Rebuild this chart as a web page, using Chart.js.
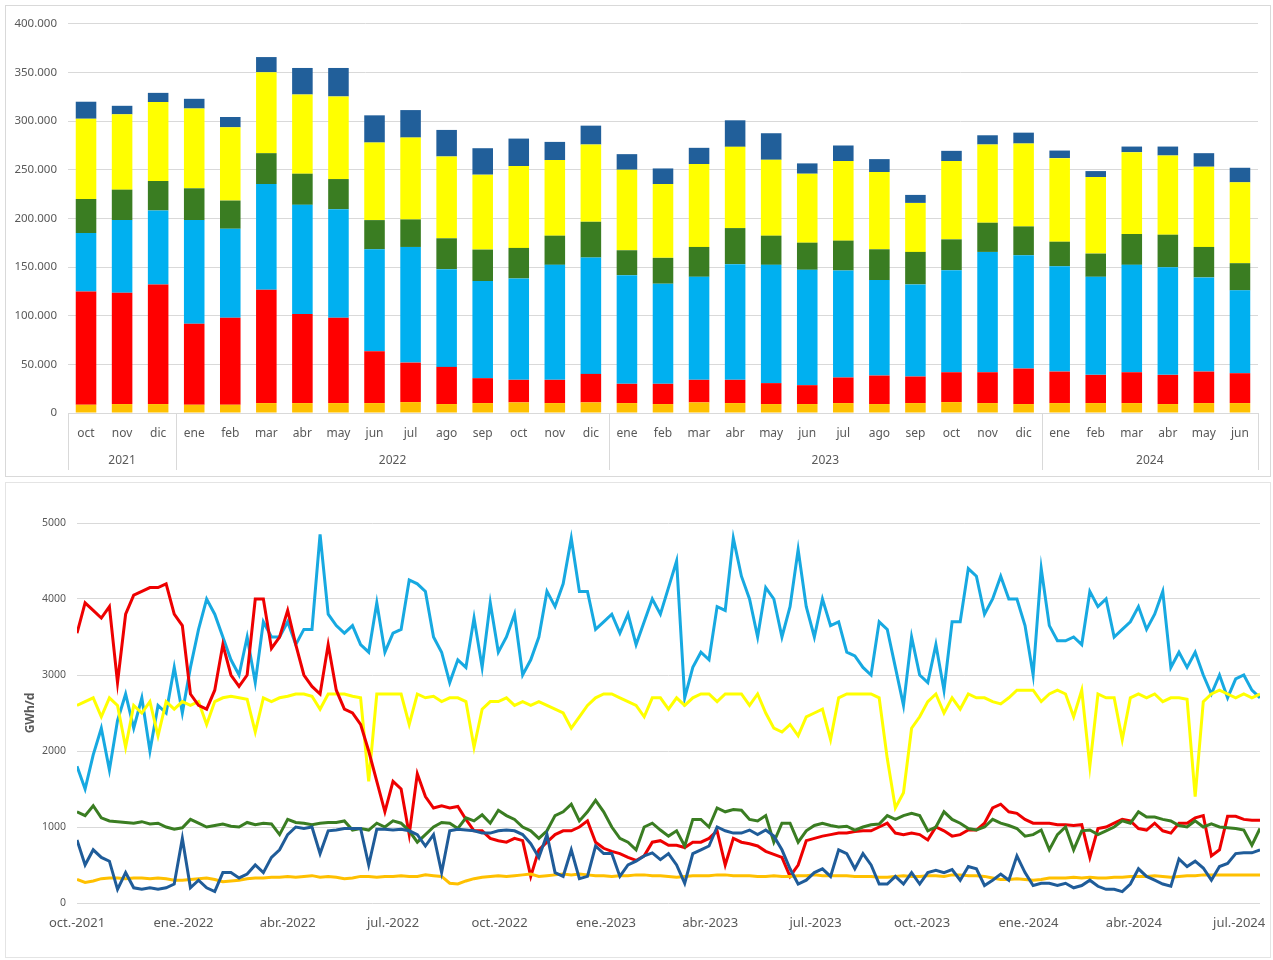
<!DOCTYPE html>
<html>
<head>
<meta charset="utf-8">
<script src="https://cdn.jsdelivr.net/npm/chart.js@4.4.1/dist/chart.umd.min.js"></script>
<style>
  body { margin: 0; background: #fff; width: 1273px; height: 960px; position: relative; overflow: hidden; }
  .box { position: absolute; left: 5px; width: 1264px; border: 1px solid #d9d9d9; background: #fff; }
  #top { top: 5px; height: 470px; }
  #bottom { top: 482px; height: 474px; border-color: #e4e4e4; }
</style>
</head>
<body>
<div class="box" id="top"><canvas id="bars"></canvas></div>
<div class="box" id="bottom"><canvas id="lines"></canvas></div>
<script>
// ---- monthly stacked bars ----
const months = ["oct", "nov", "dic", "ene", "feb", "mar", "abr", "may", "jun", "jul", "ago", "sep", "oct", "nov", "dic",
  "ene", "feb", "mar", "abr", "may", "jun", "jul", "ago", "sep", "oct", "nov", "dic", "ene", "feb", "mar", "abr", "may", "jun"];
const years = ["2021", "2022", "2023", "2024"];
const monthsPerYear = [3, 12, 12, 6];

const barOrange = [8500, 9200, 9200, 8500, 8500, 10200, 10200, 10200, 10200, 11200, 9200, 10200, 10900, 10200, 10900,
  10200, 9200, 10900, 10200, 9200, 9200, 10200, 9200, 10200, 11200, 10200, 9200, 10200, 10200, 10200, 9200, 10200, 10200];
const barRed = [116500, 114500, 123000, 83200, 89300, 116500, 91700, 87600, 53200, 40600, 38200, 25600, 23200, 23900, 29300,
  19800, 20800, 23200, 23900, 21500, 19400, 26300, 29300, 27300, 30700, 31700, 36500, 32400, 29000, 31700, 30000, 32400, 30700];
const barBlue = [60000, 74600, 76000, 106600, 91600, 108700, 112100, 111700, 104900, 118900, 100500, 99800, 104200, 118200, 119600,
  111700, 102900, 105900, 118900, 121600, 118600, 110000, 98100, 94700, 104900, 123700, 116500, 108300, 100800, 110400, 110700, 96800, 85200];
const barGreen = [35000, 31300, 30300, 32700, 29000, 31700, 32000, 31000, 30000, 28300, 31700, 32400, 31400, 30000, 36800,
  25600, 26600, 30700, 37100, 30000, 27900, 30700, 31700, 33400, 31700, 30000, 29600, 25200, 23900, 31700, 33400, 31300, 27900];
const barYellow = [82500, 77400, 81100, 82000, 75300, 83200, 81400, 84900, 79700, 84100, 84100, 77000, 84100, 77700, 79400,
  82800, 75900, 85200, 83500, 78000, 70900, 81800, 79400, 50400, 80500, 80400, 85200, 85900, 78700, 84100, 81400, 82500, 83100];
const barNavy = [17500, 8800, 9500, 10000, 10600, 15600, 27300, 29300, 28000, 28300, 27300, 27200, 28300, 18700, 19400,
  16000, 16000, 16700, 27300, 27300, 10600, 16000, 13300, 8200, 10500, 9500, 11200, 7800, 6100, 5800, 9200, 13900, 15000];
const barTicks = [0, 50000, 100000, 150000, 200000, 250000, 300000, 350000, 400000];

// ---- weekly lines (GWh/d), one value every 7 days from 1 oct 2021 ----
const lineRed = [3550, 3950, 3850, 3750, 3900, 2900, 3800, 4050, 4100, 4150, 4150, 4200, 3800, 3650, 2750, 2600, 2550, 2800, 3400, 3000,
  2850, 3000, 4000, 4000, 3350, 3500, 3850, 3400, 3000, 2850, 2750, 3400,
  2800, 2550, 2500, 2350, 2000, 1600, 1200, 1600, 1500, 900, 1700, 1400, 1250, 1280, 1250, 1270, 1100, 950, 950, 850, 820, 800, 850, 820,
  350, 700, 800, 900, 950, 950, 1000, 1080, 800, 720, 680, 650, 600, 560, 620,
  800, 820, 760, 760, 730, 800, 800, 850, 950, 500, 850, 800, 780, 750, 680, 640, 600, 350, 500, 820, 850, 880, 900, 920, 920, 940,
  950, 950, 1000, 1050, 920, 900, 920, 900, 830, 1000, 950, 880, 900, 960,
  960, 1050, 1250, 1300, 1200, 1180, 1100, 1050, 1050, 1050, 1030, 1030, 1020, 1030, 600, 980, 1000, 1050, 1100, 1080, 980, 960,
  1050, 950, 920, 1050, 1050, 1120, 1150, 620, 700, 1140, 1140, 1100, 1090, 1090];
const lineBlue = [1800, 1500, 1950, 2300, 1750, 2400, 2750, 2300, 2700, 2000, 2600, 2500, 3100, 2500, 3100, 3600, 4000, 3800, 3500, 3200,
  3000, 3500, 2900, 3700, 3500, 3500, 3700, 3400, 3600, 3600, 4850, 3800,
  3650, 3550, 3650, 3400, 3300, 3950, 3300, 3550, 3600, 4250, 4200, 4100, 3500, 3300, 2900, 3200, 3100, 3750, 3100, 3950, 3300, 3500,
  3800, 3000, 3200, 3500, 4100, 3900, 4200, 4800, 4100, 4100, 3600, 3700, 3800, 3550, 3800, 3400, 3700,
  4000, 3800, 4150, 4500, 2700, 3100, 3300, 3200, 3900, 3850, 4800, 4300, 4000, 3500, 4150, 4000, 3500, 3900, 4650, 3900, 3500, 4000,
  3650, 3700, 3300, 3250, 3100, 3000, 3700, 3600, 3100, 2600, 3500, 3000, 2900, 3400, 2800, 3700, 3700, 4400,
  4300, 3800, 4000, 4300, 4000, 4000, 3650, 3000, 4400, 3650, 3450, 3450, 3500, 3400, 4100, 3900, 4000, 3500, 3600, 3700, 3900, 3600,
  3800, 4100, 3100, 3300, 3100, 3300, 3000, 2750, 3000, 2700, 2950, 3000, 2800, 2700];
const lineYellow = [2600, 2650, 2700, 2450, 2700, 2600, 2050, 2600, 2500, 2650, 2200, 2650, 2550, 2650, 2600, 2650, 2350, 2650, 2700, 2720,
  2700, 2680, 2250, 2700, 2650, 2700, 2720, 2750, 2750, 2720, 2550, 2750,
  2750, 2750, 2720, 2700, 1600, 2750, 2750, 2750, 2750, 2350, 2750, 2700, 2720, 2650, 2700, 2700, 2650, 2050, 2550, 2650, 2650, 2700,
  2600, 2650, 2600, 2650, 2600, 2550, 2500, 2300, 2450, 2600, 2700, 2750, 2750, 2700, 2650, 2600, 2450,
  2700, 2700, 2550, 2700, 2600, 2700, 2750, 2750, 2650, 2750, 2750, 2750, 2600, 2750, 2500, 2300, 2250, 2350, 2200, 2450, 2500, 2550,
  2150, 2700, 2750, 2750, 2750, 2750, 2700, 1900, 1250, 1450, 2300, 2450, 2650, 2750, 2500, 2700, 2550, 2750,
  2700, 2700, 2650, 2620, 2700, 2800, 2800, 2800, 2650, 2750, 2800, 2750, 2450, 2800, 1800, 2750, 2700, 2700, 2150, 2700, 2750, 2700,
  2750, 2650, 2700, 2700, 2680, 1400, 2650, 2750, 2800, 2750, 2700, 2750, 2700, 2750];
const lineGreen = [1200, 1150, 1280, 1120, 1080, 1070, 1060, 1050, 1070, 1040, 1050, 1000, 970, 990, 1100, 1050, 1000, 1020, 1040, 1010,
  1000, 1060, 1030, 1050, 1040, 900, 1100, 1060, 1050, 1030, 1050, 1060,
  1060, 1080, 960, 980, 960, 1050, 1000, 1080, 1050, 950, 800, 900, 1000, 1060, 1050, 980, 1120, 1080, 1160, 1050, 1220, 1150,
  1100, 1000, 950, 850, 950, 1150, 1200, 1300, 1080, 1200, 1350, 1200, 1000, 850, 800, 700, 1000,
  1050, 960, 880, 950, 750, 1100, 1100, 1000, 1250, 1200, 1230, 1220, 1100, 1080, 1150, 800, 1050, 1050, 800, 950, 1020, 1050,
  1020, 1000, 1010, 960, 1000, 1030, 1040, 1150, 1100, 1150, 1180, 1150, 950, 1000, 1200, 1100, 1050, 980,
  960, 1000, 1100, 1050, 1020, 980, 880, 900, 960, 700, 900, 1000, 700, 950, 960, 900, 950, 1000, 1080, 1050, 1200, 1130,
  1130, 1100, 1080, 1020, 1000, 1080, 1000, 1040, 1000, 990, 980, 960, 760, 980];
const lineNavy = [830, 500, 700, 600, 550, 180, 400, 200, 180, 200, 180, 200, 250, 850, 200, 300, 200, 150, 400, 400,
  330, 380, 500, 400, 600, 700, 900, 1000, 980, 1000, 650, 950,
  960, 980, 980, 980, 500, 970, 970, 960, 970, 950, 900, 750, 900, 400, 950, 970, 960, 950, 920, 920, 950, 960,
  950, 900, 780, 600, 900, 400, 350, 700, 320, 350, 750, 650, 650, 350, 500, 550, 620,
  660, 570, 650, 500, 260, 650, 700, 750, 1000, 950, 920, 920, 960, 900, 960, 880, 700, 450, 250, 300, 400, 450,
  350, 700, 650, 450, 650, 500, 250, 250, 350, 250, 400, 250, 400, 430, 400, 440, 300, 480,
  450, 230, 300, 380, 300, 620, 400, 230, 260, 260, 230, 260, 200, 230, 300, 220, 180, 180, 150, 250, 450, 350,
  300, 250, 220, 580, 480, 550, 460, 300, 480, 520, 650, 660, 660, 700];
const lineOrange = [310, 270, 290, 320, 330, 330, 320, 330, 330, 320, 330, 320, 300, 300, 310, 320, 330, 310, 280, 290,
  300, 320, 330, 330, 340, 340, 350, 340, 350, 360, 340, 350,
  340, 320, 330, 350, 350, 340, 350, 350, 360, 350, 350, 370, 360, 350, 260, 250, 290, 320, 340, 350, 360, 350,
  360, 370, 380, 350, 360, 370, 380, 370, 380, 370, 360, 360, 350, 360, 360, 370, 370,
  360, 360, 350, 340, 350, 360, 360, 360, 370, 370, 360, 360, 360, 350, 350, 360, 350, 350, 360, 360, 370, 360,
  360, 360, 360, 350, 350, 350, 340, 340, 350, 360, 350, 350, 360, 360, 350, 370, 370, 360,
  360, 350, 330, 310, 310, 320, 310, 300, 310, 330, 330, 330, 340, 330, 340, 330, 330, 340, 340, 350, 350, 350,
  360, 350, 340, 350, 360, 360, 370, 370, 370, 370, 370, 370, 370, 370];
const quarterDays = [0, 92, 182, 273, 365, 457, 547, 638, 730, 822, 913, 1004];
const quarterLabels = ["oct.-2021", "ene.-2022", "abr.-2022", "jul.-2022", "oct.-2022", "ene.-2023",
  "abr.-2023", "jul.-2023", "oct.-2023", "ene.-2024", "abr.-2024", "jul.-2024"];
const lineTicks = [0, 1000, 2000, 3000, 4000, 5000];

const GREY = "#595959";
const GRID = "#d9d9d9";
const FONT = "'Noto Sans', 'DejaVu Sans', sans-serif";

const dotThousands = (v) => String(v).replace(/\B(?=(\d{3})+(?!\d))/g, ".");

// month axis line, year group separators and year labels under the months
const yearRow = {
  id: "yearRow",
  afterDraw(chart) {
    const { ctx, chartArea: area } = chart;
    const x = chart.scales.x;
    const bottom = area.bottom + 57;
    ctx.save();
    ctx.strokeStyle = GRID;
    ctx.lineWidth = 1;
    ctx.beginPath();
    ctx.moveTo(area.left, Math.round(area.bottom) + 0.5);
    ctx.lineTo(area.right, Math.round(area.bottom) + 0.5);
    ctx.stroke();
    ctx.fillStyle = GREY;
    ctx.font = "12px " + FONT;
    ctx.textAlign = "center";
    ctx.textBaseline = "middle";
    let start = 0;
    years.forEach((label, g) => {
      const end = start + monthsPerYear[g];
      const x0 = start === 0 ? area.left : (x.getPixelForValue(start - 1) + x.getPixelForValue(start)) / 2;
      const x1 = end === months.length ? area.right : (x.getPixelForValue(end - 1) + x.getPixelForValue(end)) / 2;
      [x0, x1].forEach((px) => {
        ctx.beginPath();
        ctx.moveTo(Math.round(px) + 0.5, area.bottom);
        ctx.lineTo(Math.round(px) + 0.5, bottom);
        ctx.stroke();
      });
      ctx.fillText(label, (x0 + x1) / 2, area.bottom + 48);
      start = end;
    });
    ctx.restore();
  },
};

const barSet = (data, color) => ({
  data,
  backgroundColor: color,
  borderWidth: 0,
  barPercentage: 0.57,
  categoryPercentage: 1,
});

new Chart(document.getElementById("bars"), {
  type: "bar",
  data: {
    labels: months,
    datasets: [
      barSet(barOrange, "#ffc000"),
      barSet(barRed, "#ff0000"),
      barSet(barBlue, "#00b0f0"),
      barSet(barGreen, "#3a7d22"),
      barSet(barYellow, "#ffff00"),
      barSet(barNavy, "#215f9a"),
    ],
  },
  options: {
    responsive: true,
    maintainAspectRatio: false,
    animation: false,
    devicePixelRatio: 1,
    layout: { padding: { top: 13, right: 12, left: 0, bottom: 0 } },
    plugins: { legend: { display: false }, tooltip: { enabled: false } },
    scales: {
      x: {
        stacked: true,
        grid: { display: false },
        border: { display: false },
        ticks: { color: GREY, font: { family: FONT, size: 12 }, padding: 5, maxRotation: 0, autoSkip: false },
        afterFit: (s) => { s.height = 63; s.paddingLeft = 0; s.paddingRight = 0; },
      },
      y: {
        stacked: true,
        min: 0,
        max: 400000,
        afterBuildTicks: (s) => { s.ticks = barTicks.map((v) => ({ value: v })); },
        grid: { color: GRID, drawTicks: false },
        border: { display: false },
        ticks: { color: GREY, font: { family: FONT, size: 11.5 }, padding: 11, callback: (v) => dotThousands(v) },
        afterFit: (s) => { s.width = 62; },
      },
    },
  },
  plugins: [yearRow],
});

const days = lineRed.map((_, i) => i * 7);
const lineSet = (values, color, order) => ({
  data: values.map((v, i) => ({ x: days[i], y: v })),
  borderColor: color,
  borderWidth: 3,
  pointRadius: 0,
  tension: 0,
  fill: false,
  order,
});

new Chart(document.getElementById("lines"), {
  type: "line",
  data: {
    datasets: [
      lineSet(lineNavy, "#1f5c99", 0),
      lineSet(lineOrange, "#ffc000", 1),
      lineSet(lineGreen, "#3a7d22", 2),
      lineSet(lineRed, "#ee0000", 3),
      lineSet(lineYellow, "#ffff00", 4),
      lineSet(lineBlue, "#17a9e1", 5),
    ],
  },
  options: {
    responsive: true,
    maintainAspectRatio: false,
    animation: false,
    devicePixelRatio: 1,
    layout: { padding: { top: 40, right: 10, left: 0, bottom: 0 } },
    plugins: { legend: { display: false }, tooltip: { enabled: false } },
    scales: {
      x: {
        type: "linear",
        min: 0,
        max: 1022,
        afterBuildTicks: (s) => { s.ticks = quarterDays.map((v) => ({ value: v })); },
        grid: { display: false },
        border: { display: false },
        ticks: {
          color: GREY, font: { family: FONT, size: 13 }, padding: 4, maxRotation: 0, autoSkip: false,
          callback: (v) => quarterLabels[quarterDays.indexOf(v)] || "",
        },
        afterFit: (s) => { s.height = 54; s.paddingLeft = 0; s.paddingRight = 0; },
      },
      y: {
        min: 0,
        max: 5000,
        afterBuildTicks: (s) => { s.ticks = lineTicks.map((v) => ({ value: v })); },
        grid: { color: GRID, drawTicks: false },
        border: { display: false },
        title: { display: true, text: "GWh/d", color: GREY, font: { family: FONT, size: 12, weight: "bold" }, padding: { top: 17, bottom: 0 } },
        ticks: { color: GREY, font: { family: FONT, size: 10.5 }, padding: 11, callback: (v) => String(v) },
        afterFit: (s) => { s.width = 71; },
      },
    },
  },
});
</script>
</body>
</html>
